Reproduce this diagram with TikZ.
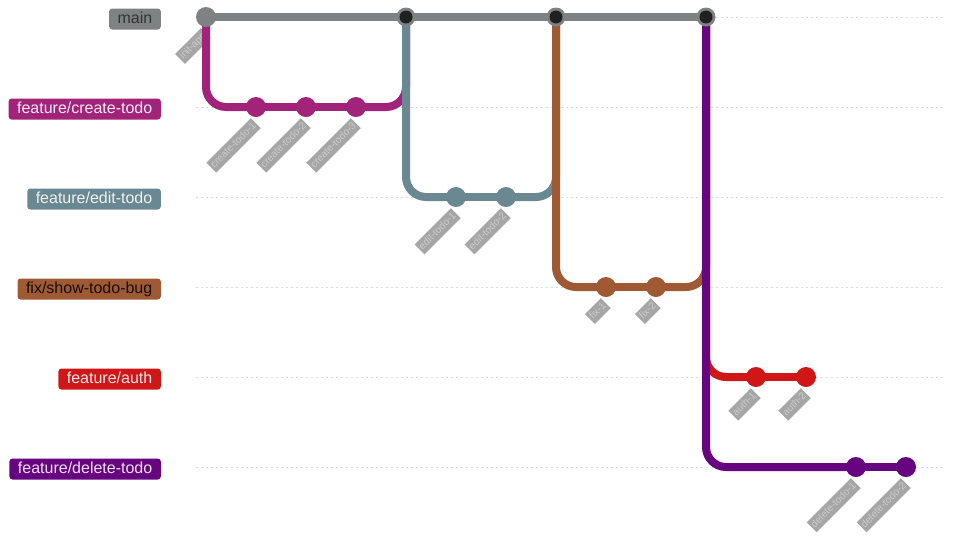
\documentclass[tikz,border=0pt]{standalone}
\usepackage{fontspec}
\setmainfont{Liberation Sans}
\definecolor{mainc}{HTML}{7F8282}
\definecolor{ctc}{HTML}{A2237A}
\definecolor{etc}{HTML}{6A8892}
\definecolor{fxc}{HTML}{A05A33}
\definecolor{auc}{HTML}{CF1717}
\definecolor{dlc}{HTML}{67047F}
\definecolor{gridc}{HTML}{DADADA}
\definecolor{mergec}{HTML}{1F2020}
\definecolor{clbg}{HTML}{4D4D4D}
\definecolor{cltext}{HTML}{CCCCCC}
\begin{document}
\begin{tikzpicture}[x=1pt,y=-1pt,
  gridline/.style={gridc,line width=1pt,dash pattern=on 2pt off 3pt},
  branchline/.style={line width=8pt,rounded corners=20pt},
  commitdot/.style={circle,inner sep=0pt,minimum size=20pt,fill=#1},
  mergedot/.style={circle,inner sep=0pt,minimum size=19pt,fill=mainc,
    path picture={\fill[mergec] (path picture bounding box.center) circle (6.5pt);}},
  blabel/.style={anchor=east,rounded corners=3pt,inner xsep=8.5pt,inner ysep=0pt,
    minimum height=21pt,text height=12pt,text depth=3.5pt,
    font=\fontsize{16}{19}\selectfont},
  clabel/.style={anchor=east,rotate=45,fill=clbg,fill opacity=0.5,text opacity=1,
    text=cltext,inner xsep=1.8pt,inner ysep=0pt,minimum height=14pt,
    text height=7.5pt,text depth=2pt,font=\fontsize{10}{12}\selectfont}
]
\useasboundingbox (0,0) rectangle (954,542);
% grid rows
\foreach \r in {17,107,197,287,377,467}{
  \coordinate (gl\r) at (196,\r);
  \coordinate (gr\r) at (946,\r);
  \draw[gridline] (gl\r) -- (gr\r);
}
% commit positions
\coordinate (pinit) at (206,17);
\coordinate (pct1) at (256,107);
\coordinate (pct2) at (306,107);
\coordinate (pct3) at (356,107);
\coordinate (pm1) at (406,17);
\coordinate (pet1) at (456,197);
\coordinate (pet2) at (506,197);
\coordinate (pm2) at (556,17);
\coordinate (pfx1) at (606,287);
\coordinate (pfx2) at (656,287);
\coordinate (pm3) at (706,17);
\coordinate (pau1) at (756,377);
\coordinate (pau2) at (806,377);
\coordinate (pdl1) at (856,467);
\coordinate (pdl2) at (906,467);
% commit labels (drawn under the branch lines where they cross)
\node[clabel] (linit) at ([yshift=-16pt]pinit) {init-app};
% connectors
\draw[branchline,ctc] (pinit) |- (pct1);
\draw[branchline,ctc] (pct1) -- (pct3);
\draw[branchline,mainc] (pinit) -- (pm1);
\draw[branchline,ctc] (pct3) -| (pm1);
\draw[branchline,etc] (pm1) |- (pet1);
\draw[branchline,etc] (pet1) -- (pet2);
\draw[branchline,mainc] (pm1) -- (pm2);
\draw[branchline,etc] (pet2) -| (pm2);
\draw[branchline,fxc] (pm2) |- (pfx1);
\draw[branchline,fxc] (pfx1) -- (pfx2);
\draw[branchline,mainc] (pm2) -- (pm3);
\draw[branchline,fxc] (pfx2) -| (pm3);
\draw[branchline,auc] (pm3) |- (pau1);
\draw[branchline,auc] (pau1) -- (pau2);
\draw[branchline,dlc] (pm3) |- (pdl1);
\draw[branchline,dlc] (pdl1) -- (pdl2);
% commits
\node[commitdot=mainc] (init) at (pinit) {};
\node[commitdot=ctc] (ct1) at (pct1) {};
\node[commitdot=ctc] (ct2) at (pct2) {};
\node[commitdot=ctc] (ct3) at (pct3) {};
\node[mergedot] (m1) at (pm1) {};
\node[commitdot=etc] (et1) at (pet1) {};
\node[commitdot=etc] (et2) at (pet2) {};
\node[mergedot] (m2) at (pm2) {};
\node[commitdot=fxc] (fx1) at (pfx1) {};
\node[commitdot=fxc] (fx2) at (pfx2) {};
\node[mergedot] (m3) at (pm3) {};
\node[commitdot=auc] (au1) at (pau1) {};
\node[commitdot=auc] (au2) at (pau2) {};
\node[commitdot=dlc] (dl1) at (pdl1) {};
\node[commitdot=dlc] (dl2) at (pdl2) {};
% commit labels
\node[clabel] (lct1) at ([yshift=-16pt]pct1) {create-todo-1};
\node[clabel] (lct2) at ([yshift=-16pt]pct2) {create-todo-2};
\node[clabel] (lct3) at ([yshift=-16pt]pct3) {create-todo-3};
\node[clabel] (let1) at ([yshift=-16pt]pet1) {edit-todo-1};
\node[clabel] (let2) at ([yshift=-16pt]pet2) {edit-todo-2};
\node[clabel] (lfx1) at ([yshift=-16pt]pfx1) {fix-1};
\node[clabel] (lfx2) at ([yshift=-16pt]pfx2) {fix-2};
\node[clabel] (lau1) at ([yshift=-16pt]pau1) {auth-1};
\node[clabel] (lau2) at ([yshift=-16pt]pau2) {auth-2};
\node[clabel] (ldl1) at ([yshift=-16pt]pdl1) {delete-todo-1};
\node[clabel] (ldl2) at ([yshift=-16pt]pdl2) {delete-todo-2};
% branch labels
\node[blabel,fill=mainc,text=black!80] (bmain) at (161,19) {main};
\node[blabel,fill=ctc,text=white!92!ctc] (bct) at (161,109) {feature/create-todo};
\node[blabel,fill=etc,text=white!88!etc] (bet) at (161,199) {feature/edit-todo};
\node[blabel,fill=fxc,text=black!85!fxc] (bfx) at (161,289) {fix/show-todo-bug};
\node[blabel,fill=auc,text=white!90!auc] (bau) at (161,379) {feature/auth};
\node[blabel,fill=dlc,text=white!88!dlc] (bdl) at (161,469) {feature/delete-todo};
\end{tikzpicture}
\end{document}
